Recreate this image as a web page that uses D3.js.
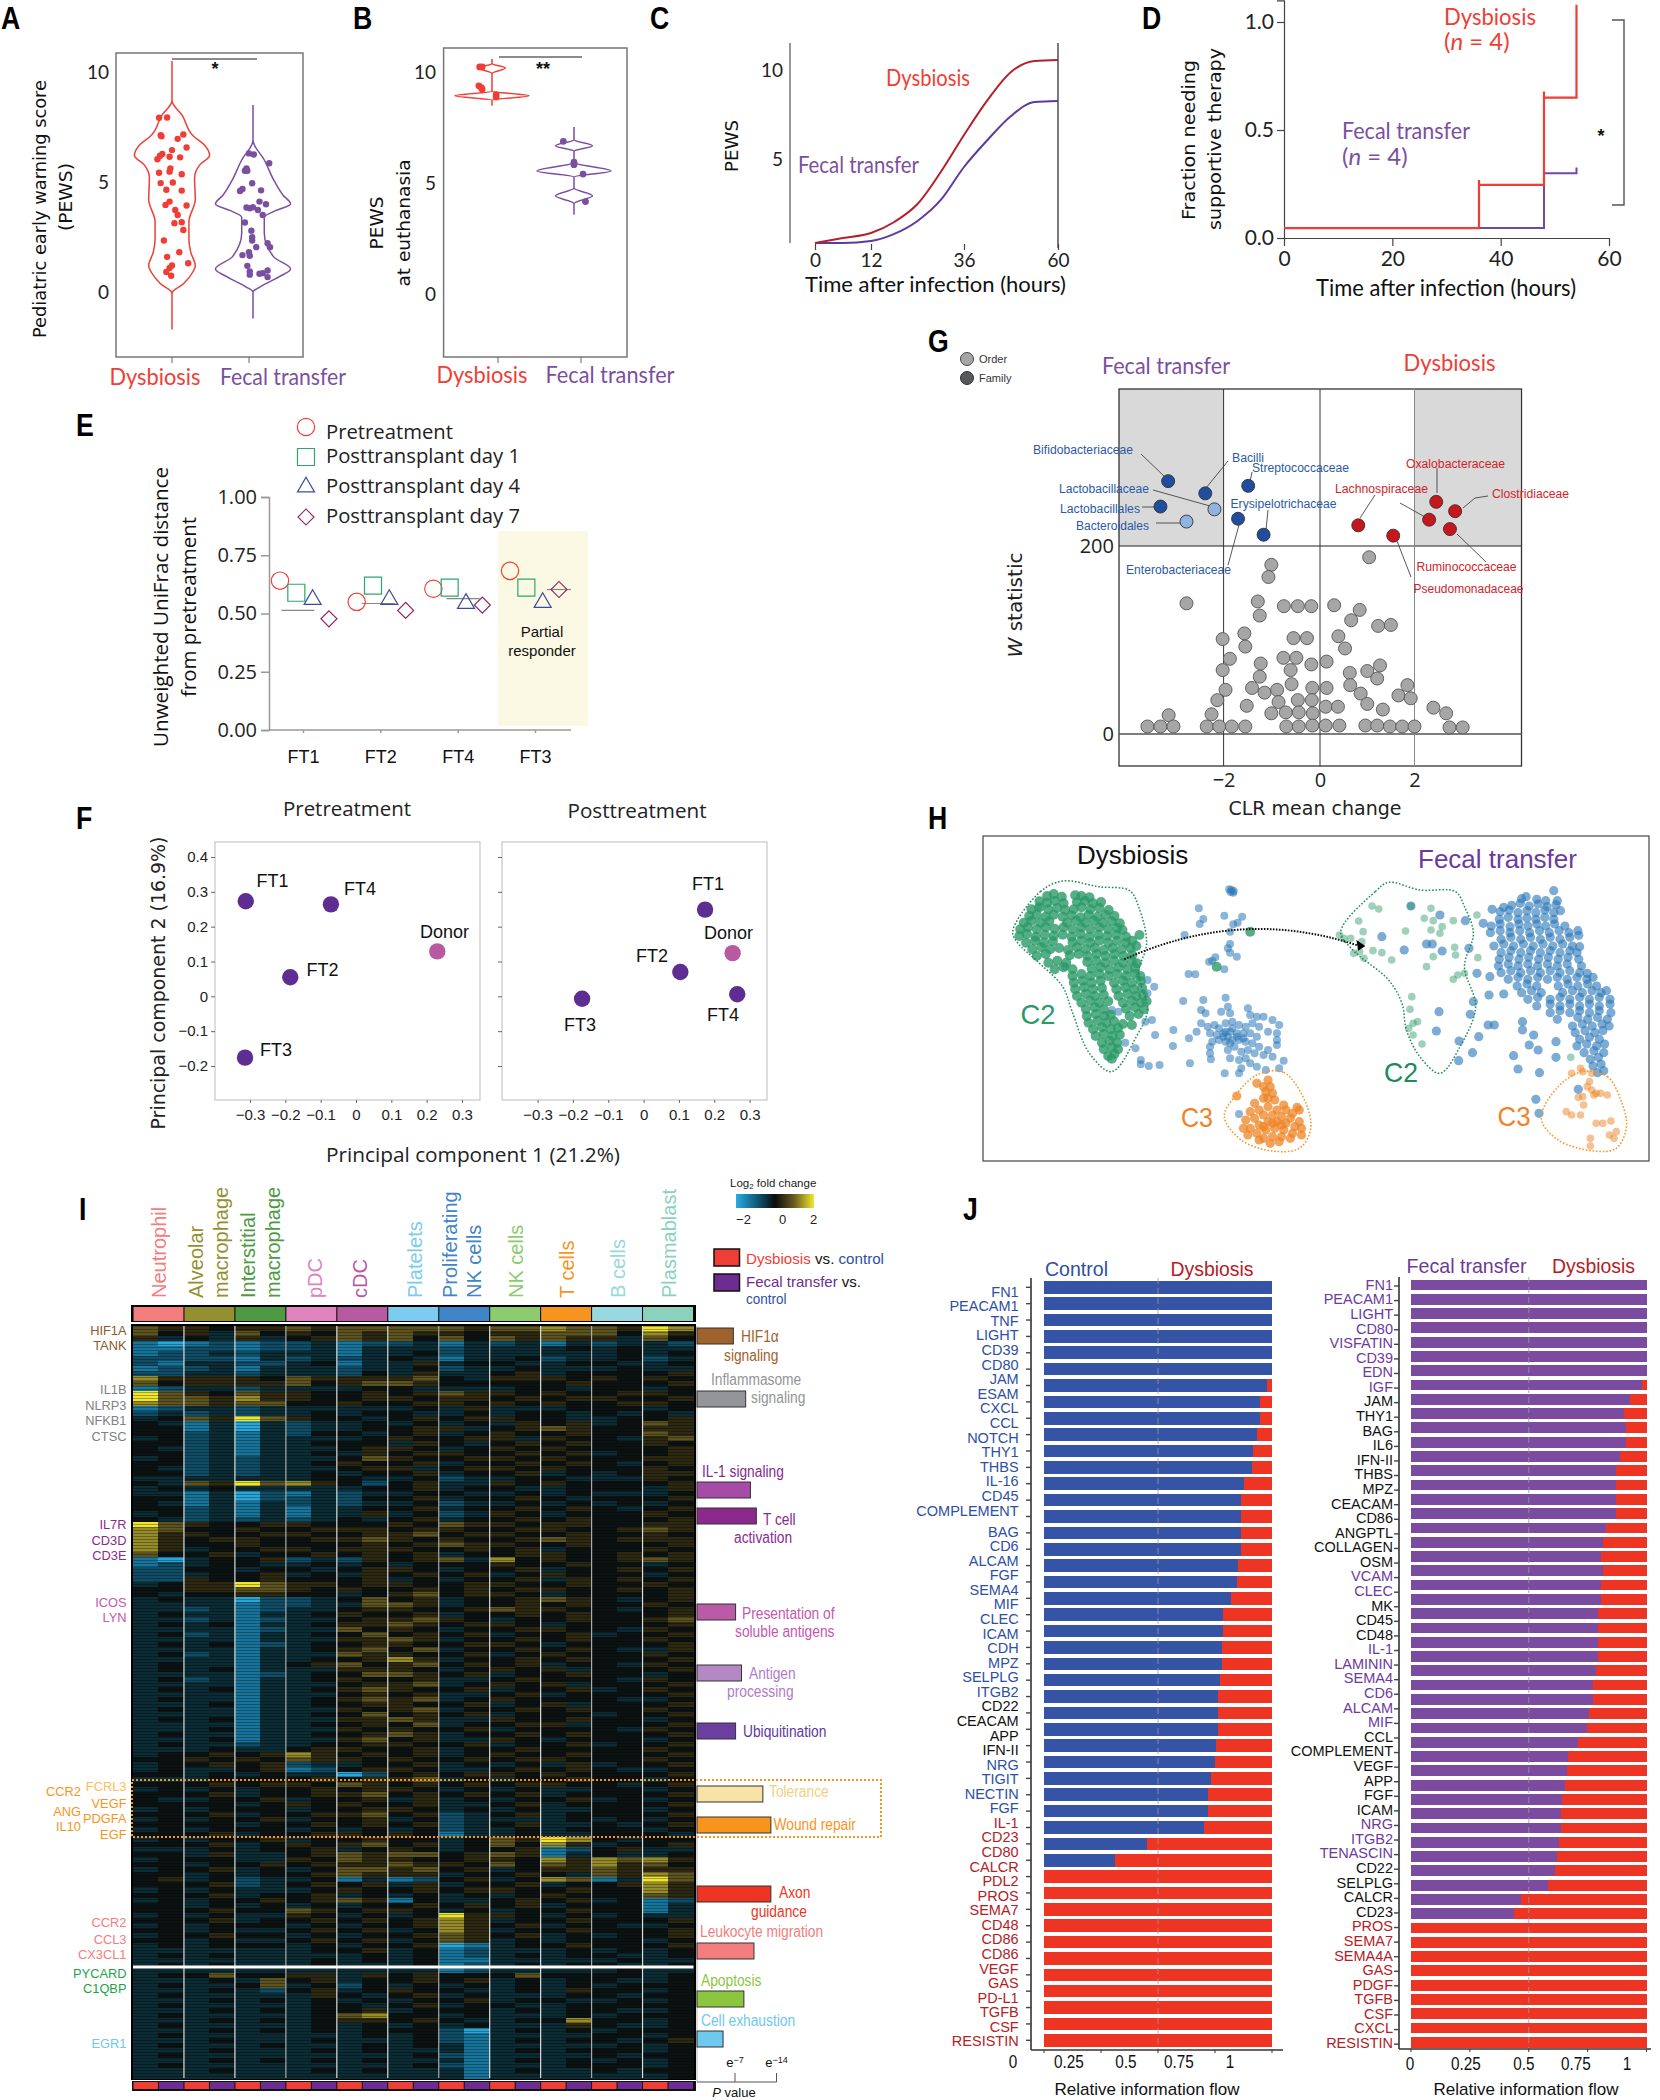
<!DOCTYPE html>
<html><head><meta charset="utf-8"><script src="https://cdn.jsdelivr.net/npm/d3@7/dist/d3.min.js"></script>
<style>html,body{margin:0;background:#fff}svg{display:block}text{font-family:"Open Sans",sans-serif}</style></head><body>
<div id="c"></div>
<script>
// ---------- Panel A ----------
const groups=["Dysbiosis","Fecal transfer"];
const violinA_red=[[-1.7,0],[-0.05,0],[0.4,.32],[0.9,.55],[1.2,.62],[1.8,.5],[2.4,.45],[3.2,.45],[4.2,.62],[5.2,.6],[5.8,.75],[6.2,1],[6.7,.85],[7.1,.56],[8,.28],[8.7,0],[10.5,0]];
const violinA_pur=[[-1.2,0],[0,0],[.25,.2],[.7,.7],[1.05,1],[1.6,.55],[2.7,.3],[3.4,.3],[3.7,.6],[4.0,1],[4.4,.8],[5,.58],[6,.3],[6.9,0],[8.5,0]];
const ptsA_red=[[.84,7.92],[.94,7.93],[.86,7.13],[.87,7.08],[1.14,7.16],[1.07,6.96],[1.18,6.57],[1,6.45],[.88,6.27],[.85,6.18],[.82,6.03],[.97,6.15],[1.1,6.12],[.98,5.62],[.97,5.47],[.84,5.42],[1.12,5.35],[.86,4.95],[1.01,4.98],[.93,4.65],[1.12,4.61],[.97,4.11],[.92,3.96],[1.18,3.93],[1.04,3.73],[1.07,3.5],[1.12,3.17],[1.03,3.13],[1.14,2.82],[.9,2.34],[1.09,1.81],[.94,1.6],[1.2,1.31],[1,1.21],[.97,1.09],[.93,.91],[.99,.74]];
const ptsA_pur=[[1.95,6.3],[2.01,6.25],[2.2,5.85],[1.92,5.62],[1.9,5.51],[1.93,5.51],[1.99,4.94],[1.87,4.68],[1.84,4.59],[2.1,4.62],[2.08,4.11],[2.16,3.99],[1.92,3.84],[1.96,3.81],[2,3.85],[2.06,3.73],[2.12,3.5],[1.9,3.16],[1.98,2.79],[1.99,2.49],[1.99,2.34],[2.18,2.22],[2.21,2.04],[2.04,2.04],[1.95,1.81],[1.87,1.68],[1.96,1.65],[1.93,1.19],[1.96,.94],[1.96,.79],[2.08,.83],[2.18,.98],[2.12,.86],[2.18,.68]];
// ---------- Panel B ----------
const violinB_red=[[8.5,0],[8.75,0],[8.95,1],[9.15,0],[9.95,0],[10.2,.36],[10.4,0],[10.6,0]];
const violinB_pur=[[3.6,0],[4.1,0],[4.45,.5],[4.8,0],[5.3,0],[5.57,1],[5.95,0],[6.45,0],[6.7,.5],[6.97,0],[7.55,0]];
const ptsB_red=[[.85,10.25],[.88,10.25],[.84,9.4],[.87,9.32],[.88,9.25],[1.05,9],[1.05,8.9]];
const ptsB_pur=[[1.87,6.9],[2,5.96],[2,5.85],[2.11,5.43],[2.14,4.19]];
// ---------- Panel C ----------
const hoursC=[0,6,12,18,24,30,36,42,48,54,60];
const pewsDys=[.28,.56,.84,1.46,2.47,4.27,6.35,8.31,9.89,10.5,10.56];
const pewsFT=[.28,.28,.39,.79,1.52,2.7,4.55,6.07,7.42,8.2,8.26];
// ---------- Panel D ----------
const stepDys=[[0,.046],[36,.046],[36,.246],[36,.268],[36,.246],[48,.246],[48,.65],[48,.678],[48,.65],[54,.65],[54,1.08]];
const stepFT=[[0,.046],[48,.046],[48,.3],[54,.3],[54,.326]];
// ---------- Panel E ----------
const patientsE=["FT1","FT2","FT4","FT3"];
const seriesE=["Pretreatment","Posttransplant day 1","Posttransplant day 4","Posttransplant day 7"];
const valsE=[[.641,.589,.56,.477],[.55,.62,.56,.513],[.606,.611,.543,.536],[.683,.611,.547,.603]];
const meansE=[.513,.543,.564,.603];
// ---------- Panel F ----------
const pcaPre=[["FT1",-.312,.273],["FT4",-.071,.264],["Donor",.23,.129],["FT2",-.186,.055],["FT3",-.314,-.176]];
const pcaPost=[["FT1",.174,.249],["Donor",.252,.124],["FT2",.104,.07],["FT4",.265,.006],["FT3",-.174,-.007]];
// ---------- Panel G ----------
const aldexGrey=[[1.04,188],[-1.01,180],[-1.07,167],[-2.77,139],[-1.29,141],[-1.25,126],[-.75,136],[-.46,136],[-.18,136],[.3,137],[.84,132],[.66,121],[1.23,115],[1.5,116],[-1.57,107],[-2.02,101],[-1.55,93],[-.55,102],[-.27,102],[.39,104],[.53,91],[-1.87,80],[-.76,81],[-.49,81],[-1.23,75],[-2.02,68],[-.61,68],[-.18,74],[.14,77],[.63,65],[1,67],[1.27,73],[1.21,59],[-1.25,61],[-.59,53],[-1.96,47],[-1.41,49],[-1.15,44],[-.89,47],[-.16,49],[.14,49],[.64,52],[.86,43],[1.85,52],[1.66,41],[1.92,38],[-2.13,36],[-.86,34],[-.46,36],[-.17,36],[-1.52,30],[.12,29],[.38,29],[1,32],[1.33,26],[2.4,28],[2.67,22],[-3.14,20],[-2.25,21],[-1.01,22],[-.71,23],[-.44,23],[-.15,22],[-3.58,8],[-3.31,8],[-3.04,8],[-2.35,8],[-2.09,8],[-1.83,8],[-1.55,8],[-.7,8],[-.44,8],[-.16,9],[.12,9],[.41,9],[.96,9],[1.21,9],[1.48,8],[1.74,8],[2,8],[2.74,7],[3.02,7]];
const aldexBlue=[["Bifidobacteriaceae",-3.15,269,1],["Bacilli",-2.38,256,1],["Streptococcaceae",-1.49,264,1],["Lactobacillaceae",-2.19,239,0],["Lactobacillales",-3.31,242,1],["Bacteroidales",-2.77,226,0],["Enterobacteriaceae",-1.7,229,1],["Erysipelotrichaceae",-1.17,212,1]];
const aldexRed=[["Oxalobacteraceae",2.46,247],["Clostridiaceae",2.86,237],["",2.31,228],["Lachnospiraceae",.81,222],["Ruminococcaceae",2.75,218],["Pseudomonadaceae",1.55,211]];
// ---------- Panel H (UMAP, arbitrary units, flat x,y lists) ----------
const umapGreenDys=[195,228,210,222,228,230,258,226,272,228,290,232,178,244,195,248,212,243,232,250,262,246,280,243,298,250,316,246,160,268,178,262,198,268,218,264,236,270,255,268,272,262,292,268,312,264,333,270,155,288,172,284,192,290,210,284,230,290,250,286,270,292,288,284,308,290,326,284,346,288,143,308,160,302,180,308,200,304,240,308,260,302,280,308,300,302,320,308,340,304,358,310,135,328,152,322,172,328,192,322,212,326,232,322,252,328,272,322,292,328,312,322,332,328,352,324,364,330,133,348,150,342,170,350,190,344,210,348,230,344,250,350,270,342,290,350,310,344,330,348,350,344,372,350,148,368,168,362,188,368,208,364,252,366,272,362,292,368,312,362,332,368,352,362,372,368,386,362,162,388,182,382,202,388,222,384,242,390,262,382,282,388,302,384,322,390,342,384,362,388,382,384,172,408,192,402,246,406,266,402,286,408,306,402,326,408,346,402,366,408,386,404,198,428,218,422,238,428,285,426,305,422,325,428,345,422,365,428,385,424,396,430,212,448,232,442,252,448,295,446,315,442,335,448,355,442,375,448,392,444,252,468,272,462,292,468,312,462,332,468,352,462,372,468,392,462,404,468,255,488,275,482,295,488,315,482,345,488,365,482,385,488,405,484,258,508,278,502,298,508,318,504,350,508,370,502,390,508,408,504,262,528,282,522,302,528,322,524,355,528,375,522,395,528,410,524,272,548,292,542,312,548,332,544,365,548,385,542,405,548,418,544,282,568,302,562,322,568,372,566,392,562,412,568,284,588,304,582,324,588,338,584,380,588,400,582,288,608,308,602,328,608,345,604,298,628,318,622,338,628,354,624,304,648,322,642,342,648,358,644,318,668,335,662,352,668,322,688,340,682,354,688,332,708,346,702,340,716,402,345,395,378,650,335,575,440,365,612,385,615];
const umapBlueDys=[603,208,608,210,613,213,606,216,612,218,535,265,545,297,537,312,592,287,632,290,622,308,612,313,605,335,503,345,605,372,600,385,605,398,592,448,620,410,572,412,565,422,558,425,512,462,527,463,420,480,435,500,420,520,500,543,545,540,595,533,430,600,415,605,478,630,437,645,513,655,477,678,393,685,370,668,405,720,405,733,423,738,447,735,515,730,593,760,175,262,235,440,340,570,355,575,625,882,540,570,550,580,600,560,585,575,605,580,645,565,650,585,665,590,680,590,700,600,715,615,530,635,540,610,555,620,570,615,580,625,595,610,610,605,625,615,640,620,655,610,670,620,690,635,710,640,560,640,575,645,590,640,605,635,620,640,635,640,650,640,665,650,565,665,580,660,595,665,610,660,625,660,640,665,655,670,670,680,690,690,710,660,710,675,560,680,560,700,562,718,600,690,615,680,630,695,645,690,660,700,680,705,700,710,605,715,625,720,640,715,650,730,630,745,625,760,665,740,685,750,715,745,725,722,595,635,610,625,600,650,620,650,635,655,590,650,605,670];
const umapOrangeDys=[690,780,665,790,680,800,695,800,685,815,700,820,690,835,620,828,660,850,680,835,705,840,725,855,650,875,670,870,690,860,710,870,730,870,745,880,640,900,660,895,680,885,700,885,720,890,740,895,760,905,635,925,650,925,670,915,690,905,710,905,730,910,750,920,765,925,645,945,665,940,685,930,705,925,725,930,745,940,765,945,680,955,700,950,720,950,740,955,695,970,715,965,670,960,700,910,680,920,720,915,755,862,760,870];
const umapGreenFT=[923,258,938,267,1055,265,1010,258,1040,295,1060,302,1105,302,1158,285,893,303,903,335,998,333,1075,340,1080,320,1055,330,850,345,860,355,875,355,900,365,882,400,895,395,925,392,945,398,905,415,967,420,1060,410,1108,382,1110,405,1045,440,1105,478,1115,465,1130,460,1012,530,1008,568,1025,605,1015,610,1005,625,1015,645,1035,672,1160,413,1368,712];
const umapBlueFT=[1330,212,1258,236,1268,230,1292,238,1312,242,1338,242,1218,262,1236,256,1255,250,1275,258,1295,252,1315,260,1335,254,1192,268,1210,275,1230,270,1250,278,1270,272,1290,278,1310,270,1330,278,1345,272,1208,298,1228,292,1250,298,1270,294,1290,298,1310,292,1330,298,1172,310,1190,318,1210,312,1232,320,1252,312,1272,318,1292,312,1312,318,1332,312,1355,318,1188,338,1210,332,1232,338,1254,332,1276,338,1298,332,1320,338,1342,332,1364,338,1384,332,1212,358,1234,352,1256,358,1278,352,1300,358,1322,352,1344,358,1366,352,1386,346,1196,378,1218,372,1240,378,1262,372,1284,378,1306,372,1328,378,1350,372,1372,378,1388,380,1212,398,1234,392,1256,398,1278,392,1300,398,1322,392,1344,398,1366,392,1382,398,1208,418,1230,412,1252,418,1274,412,1296,418,1318,412,1340,418,1362,412,1386,418,1206,438,1228,432,1250,438,1272,432,1294,438,1316,432,1338,438,1360,432,1392,438,1212,458,1234,452,1256,458,1278,452,1300,458,1322,452,1344,458,1366,452,1388,458,1405,460,1228,478,1250,472,1272,478,1294,472,1316,478,1338,472,1360,478,1382,472,1404,478,1418,472,1248,498,1270,492,1292,498,1340,498,1362,492,1384,498,1406,492,1426,498,1258,518,1280,512,1302,518,1350,518,1372,512,1394,518,1416,512,1436,518,1448,512,1272,538,1294,532,1322,538,1344,532,1366,538,1388,532,1410,538,1432,532,1456,538,1292,558,1322,552,1344,558,1366,552,1388,558,1410,552,1432,558,1456,552,1322,578,1344,572,1366,578,1388,572,1410,578,1432,572,1458,578,1338,598,1384,592,1406,598,1428,592,1450,598,1372,618,1394,612,1416,618,1438,612,1454,618,1378,638,1400,632,1422,638,1440,632,1388,658,1410,652,1432,658,1382,678,1404,672,1426,678,1444,672,1398,698,1420,692,1442,698,1412,718,1430,712,1418,738,1436,732,1428,758,1442,752,1075,285,1010,258,945,350,995,390,1045,372,1058,372,1080,393,1140,385,1132,302,1158,460,1187,470,1185,525,1218,522,1150,545,1073,575,1143,583,1183,615,1197,615,1067,633,1118,663,1162,650,1148,698,1117,722,1260,605,1260,630,1285,645,1295,690,1275,675,1335,665,1335,712,1240,707,1250,747,1298,758,1290,838,1297,880,1385,808];
const umapOrangeFT=[1395,755,1415,760,1410,785,1405,800,1415,810,1425,820,1385,832,1395,830,1397,855,1420,825,1450,825,1358,875,1370,885,1390,885,1425,910,1440,910,1458,903,1470,935,1455,945,1465,955,1412,955,1412,978,1370,760,1390,745,1435,820];
const hullC2Dys=[[118,335],[180,215],[230,183],[310,200],[380,212],[400,260],[418,370],[400,460],[420,570],[395,650],[340,755],[290,700],[250,570],[230,500],[170,420],[130,370]];
const hullC3Dys=[[665,765],[725,757],[775,850],[785,930],[760,985],[700,993],[630,960],[592,890],[615,830]];
const hullC2FT=[[853,335],[930,215],[960,187],[1030,210],[1110,215],[1130,260],[1150,340],[1130,440],[1155,560],[1120,680],[1075,760],[1030,710],[1000,630],[990,550],[960,480],[880,390]];
const hullC3FT=[[1395,755],[1450,770],[1480,840],[1493,920],[1470,985],[1420,993],[1340,960],[1302,895],[1340,800]];
// ---------- Panel I ----------
const cellTypes=["Neutrophil","Alveolar macrophage","Interstitial macrophage","pDC","cDC","Platelets","Proliferating NK cells","NK cells","T cells","B cells","Plasmablast"];
const cellColors=["#F47D7D","#948F2F","#4E9A43","#E083BF","#B75AA2","#7BCCF0","#3F85C8","#8CCB6E","#F7941D","#98D8E0","#8AD2BD"];
// one row = 22 columns, level 0 (log2FC -2) .. 4 (0) .. 8 (+2)
const heatRows=`65 54 55 65 66 66 65 66 76 65 87
64 53 64 54 65 65 54 55 66 64 75
53 43 53 45 65 64 64 65 65 53 64
10 12 12 23 12 23 13 23 13 23 32
11 22 12 23 13 33 23 33 34 34 33
12 23 23 33 13 34 23 33 33 34 34
22 22 13 23 23 43 13 34 23 34 23
21 33 22 34 13 35 34 43 34 43 34
12 23 13 33 23 34 23 34 33 34 33
22 33 23 33 24 35 33 45 34 44 45
75 55 54 65 55 56 43 55 54 54 54
64 55 55 64 56 65 44 44 45 44 45
12 33 23 33 34 43 33 34 43 44 34
86 54 65 54 45 45 65 54 54 45 54
86 65 75 54 45 54 55 45 45 54 45
76 65 66 44 54 45 54 54 54 45 54
12 33 23 33 33 34 35 33 34 44 34
23 23 23 34 34 43 34 34 43 43 43
34 65 86 54 43 45 45 54 43 34 45
43 13 03 23 34 34 34 35 45 34 65
44 13 03 23 34 45 53 45 65 44 55
44 23 13 24 43 45 34 54 45 44 65
34 23 13 33 34 54 45 53 54 43 56
44 23 13 34 44 35 43 45 45 44 54
43 23 13 33 45 54 34 54 54 44 45
44 23 13 34 35 45 54 45 45 34 45
34 23 23 33 46 54 45 54 54 44 55
44 23 23 34 54 45 34 45 45 43 45
43 23 23 33 45 53 45 54 54 44 54
44 23 23 34 34 45 34 45 34 34 55
33 33 33 34 43 34 23 34 43 33 54
43 65 86 75 42 45 33 54 54 44 45
34 34 33 33 34 45 34 43 34 44 35
33 13 02 13 23 34 43 34 34 33 34
44 13 02 23 24 45 34 45 43 44 45
43 13 13 23 23 34 23 34 34 34 34
44 23 13 13 34 45 34 45 45 43 45
34 23 13 13 35 34 23 54 34 44 54
43 23 23 23 43 45 34 45 45 44 45
86 54 45 54 44 54 65 54 55 44 55
76 44 54 45 55 45 54 45 54 45 65
75 54 45 54 45 56 45 54 45 44 54
75 45 54 45 56 54 54 45 65 45 55
75 44 54 44 45 45 65 54 45 44 45
75 34 45 54 55 54 45 45 34 44 54
64 45 34 45 45 45 34 45 54 45 45
10 34 45 23 25 45 63 74 54 45 65
12 34 43 34 34 34 44 54 45 44 34
22 44 34 43 45 54 34 45 34 45 45
22 34 45 34 35 45 45 34 54 44 34
22 54 45 44 45 34 34 45 35 45 45
34 55 86 55 45 54 45 54 45 44 54
44 55 66 54 54 45 45 45 54 45 45
43 44 55 44 34 56 45 54 34 44 45
34 33 02 23 46 45 34 45 65 43 45
33 33 12 23 36 65 34 45 45 44 54
33 23 12 33 45 54 45 65 54 43 45
34 33 13 34 54 45 34 45 45 44 45
33 23 12 33 45 56 54 34 45 44 56
34 34 13 34 55 65 45 54 34 44 45
33 33 12 33 64 54 34 45 54 43 54
34 23 13 34 46 45 45 34 45 34 45
33 33 13 33 55 65 34 45 45 44 54
34 34 12 34 45 54 45 54 34 44 45
33 33 13 34 56 46 34 45 45 43 35
34 23 13 33 65 54 45 34 54 44 54
33 33 13 34 45 75 34 45 45 44 45
34 33 13 45 64 56 45 45 34 43 54
34 34 13 33 55 54 34 54 53 44 45
33 33 12 34 46 65 45 34 45 44 34
34 23 13 34 54 45 33 45 44 43 54
33 33 13 33 45 56 34 54 53 44 45
34 34 13 34 56 54 45 34 45 34 54
33 33 13 33 45 45 33 45 34 44 45
34 33 13 34 56 56 34 54 44 43 34
33 34 13 34 45 54 45 34 53 44 45
34 33 13 33 54 56 34 45 45 44 54
33 33 13 34 46 45 45 34 44 34 45
34 34 13 33 55 65 33 54 45 44 34
33 33 13 34 45 46 34 45 53 44 45
33 34 13 33 54 54 45 34 44 43 54
34 33 13 34 45 65 34 45 45 44 45
33 34 13 33 56 45 33 54 34 44 34
34 33 23 34 45 54 45 34 45 34 45
33 34 33 45 54 45 34 45 44 44 54
34 45 45 75 45 45 34 54 45 44 45
44 54 54 65 54 54 45 45 54 44 54
34 45 45 23 34 45 34 34 35 34 45
34 33 45 12 45 54 33 45 45 43 34
44 34 34 33 02 45 45 54 54 44 45
33 34 44 45 45 56 34 34 45 44 34
44 45 45 54 65 45 45 45 54 43 45
34 34 34 45 45 54 34 34 33 44 34
44 45 34 45 56 45 45 45 34 44 45
43 34 45 34 45 35 34 34 45 34 34
44 44 34 54 54 45 33 45 34 44 45
34 34 44 34 45 54 34 34 33 44 34
44 45 34 45 56 45 23 45 34 44 45
34 34 45 34 45 34 23 33 34 34 34
44 44 34 45 45 45 23 45 33 43 45
34 34 44 34 34 34 23 34 34 44 34
44 45 34 45 54 54 13 34 33 44 43
34 34 45 34 45 44 34 65 87 43 44
44 45 34 54 56 45 34 64 75 34 45
33 34 34 45 34 54 34 45 12 45 33
44 35 33 45 65 66 45 65 13 43 34
34 44 33 54 65 54 45 54 75 76 75
44 34 45 45 55 65 54 64 65 75 64
34 45 34 34 66 56 45 34 55 65 55
44 34 34 45 65 55 34 45 43 65 76
45 34 23 34 13 12 45 34 76 13 86
44 45 23 45 45 35 34 45 34 45 75
34 34 33 34 54 45 45 54 45 44 75
44 45 34 45 34 34 34 34 54 44 65
34 34 45 45 65 14 33 45 45 34 12
44 34 34 34 34 45 45 45 34 44 13
44 45 44 65 45 54 34 34 45 44 13
34 34 33 54 34 34 85 54 34 34 33
44 45 34 45 45 45 75 34 45 44 45
34 34 44 34 34 45 75 45 34 43 34
44 34 33 45 45 34 75 34 45 44 45
34 45 44 34 34 45 65 45 34 34 45
44 34 33 45 45 34 65 34 34 44 34
34 34 44 34 34 45 01 34 45 44 45
33 33 33 34 45 34 12 33 34 34 34
34 34 33 33 34 34 12 34 34 43 34
33 33 33 34 34 34 11 33 33 34 33
34 34 33 34 33 34 12 34 34 43 34
33 33 33 33 33 33 12 33 33 34 33
34 46 44 55 35 45 44 46 44 44 34
33 34 36 45 34 45 45 34 34 43 34
34 33 46 34 24 34 34 34 34 34 44
33 34 32 45 34 54 43 34 35 44 34
34 33 33 35 43 45 34 33 34 43 44
33 34 34 34 34 34 45 34 43 34 34
34 33 33 34 43 45 34 43 34 44 44
33 34 34 34 45 34 44 34 34 43 34
34 33 33 34 67 44 34 33 34 34 44
33 34 34 34 55 45 43 34 47 44 34
34 33 33 34 34 34 34 33 35 43 34
33 34 34 34 34 44 20 34 34 34 44
34 33 33 33 34 34 21 33 33 44 34
33 34 33 34 33 34 21 34 34 43 45
34 33 34 33 34 34 31 33 33 34 34
33 34 33 34 34 33 31 34 34 44 34
34 33 33 33 33 34 21 33 33 43 44
33 34 34 34 34 33 31 34 34 34 34
34 33 33 33 33 34 21 33 34 44 34
33 34 33 34 34 33 31 34 33 43 44
33 33 33 33 33 33 31 33 33 33 34`.split("\n").map(r=>r.replace(/ /g,"").split("").map(c=>(+c-4)/2));
const pathways=[["HIF1α",6.7,"#A0622D"],["Inflammasome",8.8,"#939598"],["IL-1",9.6,"#A64CA6"],["T cell",10.6,"#8B2A8C"],["Presentation",7.1,"#B95BA6"],["Antigen",8.1,"#B488C4"],["Ubiquitination",7.1,"#6B3FA0"],["Tolerance",11.7,"#F9E2A5"],["Wound repair",13.05,"#F7941D"],["Axon",13.05,"#EE3524"],["Leukocyte",10.2,"#F47D7D"],["Apoptosis",8.5,"#8CC63F"],["Exhaustion",4.8,"#6FC8EE"]];
const pathwayTops=[1328,1391,1482,1508,1604,1665,1723,1786,1817,1886,1943,1991,2031];
// ---------- Panel J ----------
const genesCtrl=["FN1","PEACAM1","TNF","LIGHT","CD39","CD80","JAM","ESAM","CXCL","CCL","NOTCH","THY1","THBS","IL-16","CD45","COMPLEMENT","BAG","CD6","ALCAM","FGF","SEMA4","MIF","CLEC","ICAM","CDH","MPZ","SELPLG","ITGB2","CD22","CEACAM","APP","IFN-II","NRG","TIGIT","NECTIN","FGF","IL-1","CD23","CD80","CALCR","PDL2","PROS","SEMA7","CD48","CD86","CD86","VEGF","GAS","PD-L1","TGFB","CSF","RESISTIN"];
const fracCtrl=[1,1,1,1,1,1,.979,.947,.947,.936,.917,.911,.877,.866,.866,.866,.866,.851,.845,.819,.783,.783,.781,.781,.772,.764,.762,.762,.753,.749,.732,.721,.721,.7,.453,.311,0,0,0,0,0,0,0,0,0,0,0];
const genesFT=["FN1","PEACAM1","LIGHT","CD80","VISFATIN","CD39","EDN","IGF","JAM","THY1","BAG","IL6","IFN-II","THBS","MPZ","CEACAM","CD86","ANGPTL","COLLAGEN","OSM","VCAM","CLEC","MK","CD45","CD48","IL-1","LAMININ","SEMA4","CD6","ALCAM","MIF","CCL","COMPLEMENT","VEGF","APP","FGF","ICAM","NRG","ITGB2","TENASCIN","CD22","SELPLG","CALCR","CD23","PROS","SEMA7","SEMA4A","GAS","PDGF","TGFB","CSF","CXCL","RESISTIN"];
const fracFT=[1,1,1,1,1,1,1,.979,.932,.903,.911,.911,.889,.872,.872,.872,.872,.829,.816,.808,.816,.808,.808,.796,.796,.796,.792,.786,.771,.771,.755,.746,.711,.668,.664,.654,.643,.635,.635,.627,.619,.612,.581,.468,.439,0,0,0,0,0,0,0,0,0];
const ftBlack=["JAM","THY1","BAG","IL6","IFN-II","THBS","MPZ","CEACAM","CD86","ANGPTL","COLLAGEN","OSM","MK","CD45","CD48","CCL","COMPLEMENT","VEGF","APP","FGF","ICAM","CD22","SELPLG","CALCR","CD23"];

// ====== drawing helpers ======
const RED="#EF3E36",PUR="#7B4FA0",ARIAL='"Liberation Sans",sans-serif',WIDE='"DejaVu Sans",sans-serif',LATO='Lato,sans-serif';
const svg=d3.select("#c").append("svg").attr("width",1660).attr("height",2100);
svg.append("rect").attr("width",1660).attr("height",2100).attr("fill","#fff");
function T(x,y,s,o={}){const t=svg.append("text").attr("x",x).attr("y",y).attr("font-size",o.size||16).attr("fill",o.fill||"#111").attr("text-anchor",o.anchor||"start").text(s);
 t.style("font-family",o.font||ARIAL);if(o.rot)t.attr("transform",`rotate(-90 ${x} ${y})`);if(o.weight)t.attr("font-weight",o.weight);if(o.style)t.attr("font-style",o.style);if(o.db)t.attr("dominant-baseline",o.db);
 if(o.w)t.attr("textLength",o.w).attr("lengthAdjust","spacingAndGlyphs");
 if(o.sx)t.attr("textLength",t.node().getComputedTextLength()*o.sx).attr("lengthAdjust","spacingAndGlyphs");return t;}
function axisStyle(g,o={}){g.selectAll("text").attr("font-size",o.size||18).attr("fill",o.fill||"#222").style("font-family",o.font||LATO);g.selectAll("line").attr("stroke",o.stroke||"#444").attr("stroke-width",o.sw||1.2);g.selectAll(".domain").attr("stroke",o.stroke||"#444").attr("stroke-width",o.sw||1.2);return g;}
function line(x1,y1,x2,y2,c="#444",w=1,dash){const l=svg.append("line").attr("x1",x1).attr("y1",y1).attr("x2",x2).attr("y2",y2).attr("stroke",c).attr("stroke-width",w);if(dash)l.attr("stroke-dasharray",dash);return l;}
function box(x,y,w,h,c="#777",sw=1.5,f="none"){return svg.append("rect").attr("x",x).attr("y",y).attr("width",w).attr("height",h).attr("fill",f).attr("stroke",c).attr("stroke-width",sw);}
["A",1,29,"B",353,29,"C",650,29,"D",1142,29,"E",76,436,"F",76,829,"G",928,352,"H",928,829,"I",79,1220,"J",963,1220].forEach((v,i,a)=>{if(i%3==0)T(a[i+1],a[i+2],v,{size:31,weight:"bold",font:ARIAL,fill:"#000",sx:.86});});
function violin(data,cx,hw,y,color){const a=d3.area().curve(d3.curveMonotoneY).y(d=>y(d[0])).x0(d=>cx-d[1]*hw).x1(d=>cx+d[1]*hw);svg.append("path").attr("d",a(data)).attr("fill","none").attr("stroke",color).attr("stroke-width",1.5);}

// ====== A ======
{const y=d3.scaleLinear([-2.95,10.86],[357,53]),x=d3.scaleLinear([1,2],[172,253]);
 box(116,53,187,304);
 axisStyle(svg.append("g").attr("transform","translate(112,0)").call(d3.axisLeft(y).tickValues([0,5,10]).tickSize(0).tickFormat(d3.format("d"))).call(g=>g.select(".domain").remove()),{size:19});
 violin(violinA_red,172,37.6,y,RED);violin(violinA_pur,253,37.6,y,"#7B4FA0");
 svg.append("g").selectAll("circle").data(ptsA_red).join("circle").attr("cx",d=>x(d[0])).attr("cy",d=>y(d[1])).attr("r",3.2).attr("fill",RED);
 svg.append("g").selectAll("circle").data(ptsA_pur).join("circle").attr("cx",d=>x(d[0])).attr("cy",d=>y(d[1])).attr("r",3.2).attr("fill","#7B4FA0");
 line(172,59,257,59,"#666",1.5);T(215,75,"*",{size:18,anchor:"middle",weight:"bold"});
 line(172,357,172,363,"#666",1);line(249,357,249,363,"#666",1);
 T(155,385,"Dysbiosis",{size:23,fill:RED,anchor:"middle",font:LATO,w:91});T(283,385,"Fecal transfer",{size:23,fill:PUR,anchor:"middle",font:LATO,w:126});
 T(46,209,"Pediatric early warning score",{size:18,font:WIDE,anchor:"middle",rot:1,w:258});T(72,197,"(PEWS)",{size:18,font:WIDE,anchor:"middle",rot:1,w:68});}
// ====== B ======
{const y=d3.scaleLinear([-2.8,11.1],[357,48]),x=d3.scaleLinear([1,2],[492,574]);
 box(443.6,48,183.4,309);
 axisStyle(svg.append("g").attr("transform","translate(439,0)").call(d3.axisLeft(y).tickValues([0,5,10]).tickSize(0).tickFormat(d3.format("d"))).call(g=>g.select(".domain").remove()),{size:19});
 violin(violinB_red,492,37,y,RED);violin(violinB_pur,574,37,y,"#7B4FA0");
 svg.append("g").selectAll("circle").data(ptsB_red).join("circle").attr("cx",d=>x(d[0])).attr("cy",d=>y(d[1])).attr("r",3.4).attr("fill",RED);
 svg.append("g").selectAll("circle").data(ptsB_pur).join("circle").attr("cx",d=>x(d[0])).attr("cy",d=>y(d[1])).attr("r",3.4).attr("fill","#7B4FA0");
 line(499,57,582,57,"#666",1.5);T(543,75,"**",{size:18,anchor:"middle",weight:"bold"});
 line(498,357,498,363,"#666",1);line(581,357,581,363,"#666",1);
 T(482,383,"Dysbiosis",{size:23,fill:RED,anchor:"middle",font:LATO,w:91});T(610,383,"Fecal transfer",{size:23,fill:PUR,anchor:"middle",font:LATO,w:129});
 T(383,223,"PEWS",{size:18,font:WIDE,anchor:"middle",rot:1,w:53});T(410,223,"at euthanasia",{size:18,font:WIDE,anchor:"middle",rot:1,w:127});}
// ====== C ======
{const x=d3.scaleLinear([0,12,36,60],[815,871,964,1058]),y=d3.scaleLinear([0,10],[248,70]);
 line(790,43,790,243,"#555",1.2);line(1058,43,1058,248,"#222",1.2);
 axisStyle(svg.append("g").attr("transform","translate(786,0)").call(d3.axisLeft(y).tickValues([5,10]).tickSize(0)).call(g=>g.select(".domain").remove()),{size:19});
 axisStyle(svg.append("g").attr("transform","translate(0,244)").call(d3.axisBottom(x).tickValues([0,12,36,60]).tickSize(6).tickPadding(4)).call(g=>g.select(".domain").remove()),{size:19});
 const ln=v=>d3.line().curve(d3.curveMonotoneX).x((d,i)=>x(hoursC[i])).y(d=>y(d))(v);
 svg.append("path").attr("d",ln(pewsFT)).attr("fill","none").attr("stroke","#5E3A9E").attr("stroke-width",2);
 svg.append("path").attr("d",ln(pewsDys)).attr("fill","none").attr("stroke","#B5202B").attr("stroke-width",2);
 T(886,86,"Dysbiosis",{size:23,fill:RED,font:LATO,w:84});T(798,173,"Fecal transfer",{size:23,fill:PUR,font:LATO,w:121});
 T(805,292,"Time after infection (hours)",{size:22,font:LATO,w:261});
 T(738,146,"PEWS",{size:18,font:WIDE,anchor:"middle",rot:1,w:52});}
// ====== D ======
{const x=d3.scaleLinear([0,60],[1284,1609]),y=d3.scaleLinear([0,1],[238,22]);
 axisStyle(svg.append("g").attr("transform","translate(1284,0)").call(d3.axisLeft(d3.scaleLinear([0,1.1],[238,0.4])).tickValues([0,.5,1]).tickSize(7).tickFormat(d3.format(".1f"))),{size:21});
 axisStyle(svg.append("g").attr("transform","translate(0,238)").call(d3.axisBottom(x).tickValues([0,20,40,60]).tickSize(8).tickSizeOuter(0).tickPadding(5)),{size:21});
 const ln=d3.line().x(d=>x(d[0])).y(d=>y(d[1]));
 svg.append("path").attr("d",ln(stepFT)).attr("fill","none").attr("stroke","#6D4AA8").attr("stroke-width",2);
 svg.append("path").attr("d",ln(stepDys)).attr("fill","none").attr("stroke",RED).attr("stroke-width",2.2);
 T(1444,25,"Dysbiosis",{size:24,fill:RED,font:LATO,w:92});
 const n=(x0,y0,c)=>{const t=T(x0,y0,"(",{size:24,fill:c,font:LATO});t.append("tspan").attr("font-style","italic").text("n");t.append("tspan").text(" = 4)");};
 n(1444,50,RED);T(1342,139,"Fecal transfer",{size:24,fill:PUR,font:LATO,w:128});n(1342,165,PUR);
 T(1190,140,"Fraction needing",{size:18,font:WIDE,anchor:"middle",rot:1,w:160,db:"middle"});T(1216,139,"supportive therapy",{size:18,font:WIDE,anchor:"middle",rot:1,w:182,db:"middle"});
 T(1316,296,"Time after infection (hours)",{size:23,font:LATO,w:260});
 svg.append("path").attr("d","M1612 20H1624V205H1612").attr("fill","none").attr("stroke","#555").attr("stroke-width",1.4);
 T(1601,142,"*",{size:18,anchor:"middle",weight:"bold"});}
// ====== E ======
{const y=d3.scaleLinear([0,1],[730,497]),slot=d3.scaleLinear([0,17.1],[280,559]);
 svg.append("rect").attr("x",498).attr("y",531).attr("width",90).attr("height",195).attr("fill","#FBF9E3");
 const pts=d3.scalePoint(patientsE,[303,535]);
 axisStyle(svg.append("g").attr("transform","translate(269,0)").call(d3.axisLeft(y).tickValues([0,.25,.5,.75,1]).tickSize(8).tickFormat(d3.format(".2f")).tickPadding(4)),{size:20,stroke:"#999",sw:1.5,font:'"Open Sans",sans-serif'});
 const xa=svg.append("g").attr("transform","translate(0,730)").call(d3.axisBottom(pts).tickSize(3).tickPadding(17).tickSizeOuter(0));
 axisStyle(xa,{size:18,stroke:"#999",sw:1.5,font:ARIAL,fill:"#111"});
 xa.select(".domain").attr("d","M269,0H571");
 const col=["#EF4136","#2FA56E","#3B4BA0","#8E2A63"];
 const sym=[d3.symbol(d3.symbolCircle,236)(),d3.symbol(d3.symbolSquare,289)(),d3.symbol(d3.symbolTriangle,125)(),d3.symbol(d3.symbolSquare,128)()];
 valsE.forEach((r,i)=>{const off=[1.1,1.32,1.82,3.0][i],w=[16.5,16.5,16.5,12][i],cx=slot(4.7*i+off);
  line(cx-w,y(meansE[i]),cx+w,y(meansE[i]),"#888",1.2);
  r.forEach((v,j)=>svg.append("path").attr("d",sym[j]).attr("transform",`translate(${slot(4.7*i+j)},${y(v)})${j==3?" rotate(45)":""}`).attr("fill","none").attr("stroke",col[j]).attr("stroke-width",1.2));});
 seriesE.forEach((s,j)=>{const yy=[427,457,487,517][j];svg.append("path").attr("d",sym[j]).attr("transform",`translate(306,${yy})${j==3?" rotate(45)":""}`).attr("fill","none").attr("stroke",col[j]).attr("stroke-width",1.2);
  T(326,yy+6+(j==0?6:0),s,{size:20,font:'"Open Sans",sans-serif',fill:"#222",w:j==0?127:194});});
 T(542,637,"Partial",{size:15,anchor:"middle"});T(542,656,"responder",{size:15,anchor:"middle"});
 T(168,607,"Unweighted UniFrac distance",{size:20,font:'"Open Sans",sans-serif',anchor:"middle",rot:1,w:280});T(196,607,"from pretreatment",{size:20,font:'"Open Sans",sans-serif',anchor:"middle",rot:1,w:180});}
// ====== F ======
{const y=d3.scaleLinear([-.2,.4],[1066,857]);
 const labs={pre:{FT1:[256.5,887],FT4:[344,895],Donor:[420,938],FT2:[306.5,976],FT3:[260,1056]},post:{FT1:[692,890],Donor:[704,939],FT2:[636,962],FT4:[707,1021],FT3:[564,1031]}};
 [[215,pcaPre,356,"pre"],[502,pcaPost,643.6,"post"]].forEach(([x0,data,z,k],pi)=>{
  const x=d3.scaleLinear([-.3,.3],[z-106,z+106]);
  box(x0,842,265,258,"#bbb",1);
  const fmt=d=>Math.abs(d)<1e-9?"0":d3.format(".1f")(d);
  const ya=svg.append("g").attr("transform",`translate(${x0},0)`).call(d3.axisLeft(y).tickValues([-.2,-.1,0,.1,.2,.3,.4]).tickSize(4).tickFormat(fmt).tickPadding(3));
  axisStyle(ya,{size:15,font:ARIAL,stroke:"#666",sw:1});ya.select(".domain").remove();if(pi)ya.selectAll("text").remove();
  const xa=svg.append("g").attr("transform","translate(0,1100)").call(d3.axisBottom(x).tickValues([-.3,-.2,-.1,0,.1,.2,.3]).tickSize(3).tickFormat(fmt).tickPadding(6));
  axisStyle(xa,{size:15,font:ARIAL,stroke:"#666",sw:1});xa.select(".domain").remove();
  svg.append("g").selectAll("circle").data(data).join("circle").attr("cx",d=>x(d[1])).attr("cy",d=>y(d[2])).attr("r",8.2).attr("fill",d=>d[0]=="Donor"?"#B75AA2":"#5E2D91");
  data.forEach(d=>T(labs[k][d[0]][0],labs[k][d[0]][1],d[0],{size:18,fill:"#111"}));});
 T(347,816,"Pretreatment",{size:20,anchor:"middle",font:'"Open Sans",sans-serif',fill:"#222",w:128});T(637,818,"Posttreatment",{size:20,anchor:"middle",font:'"Open Sans",sans-serif',fill:"#222",w:139});
 T(473,1162,"Principal component 1 (21.2%)",{size:20,anchor:"middle",font:'"Open Sans",sans-serif',fill:"#222",w:294});
 T(165,983,"Principal component 2 (16.9%)",{size:20,anchor:"middle",rot:1,font:WIDE,fill:"#222",w:293});}
// ====== G ======
{const x=d3.scaleLinear([-2,0,2],[1223.6,1320,1414.5]),y=d3.scaleLinear([0,200],[734,546]);
 svg.append("rect").attr("x",1119).attr("y",389).attr("width",104.6).attr("height",157).attr("fill","#D9D9D9");
 svg.append("rect").attr("x",1414.5).attr("y",389).attr("width",106).attr("height",157).attr("fill","#D9D9D9");
 box(1119,389,402.5,377,"#333",1.3);
 line(1119,546,1521.5,546,"#222",1.2);line(1119,734,1521.5,734,"#555",1.6);line(1223.6,389,1223.6,766,"#333",1);line(1320,389,1320,766,"#333",1);line(1414.5,389,1414.5,766,"#888",1);
 [[1141,454,1165,477],[1228,461,1206,488],[1252,472,1250,482],[1153,490,1210,506],[1142,507,1156,507],[1156,523,1181,523],[1268,510,1266,530],[1228,565,1239,525],[1437,468,1437,493],[1488,496,1475,498],[1475,498,1463,508],[1375,495,1360,518],[1400,503,1425,517],[1486,562,1457,534],[1411,577,1397,541]].forEach(l=>line(l[0],l[1],l[2],l[3],"#444",.9));
 svg.append("g").selectAll("circle").data(aldexGrey).join("circle").attr("cx",d=>x(d[0])).attr("cy",d=>y(d[1])).attr("r",6.5).attr("fill","#A6A6A6").attr("stroke","#555").attr("stroke-width",.9);
 svg.append("g").selectAll("circle").data(aldexBlue).join("circle").attr("cx",d=>x(d[1])).attr("cy",d=>y(d[2])).attr("r",6.5).attr("fill",d=>d[3]?"#1F4E9E":"#8FB4E0").attr("stroke","#333").attr("stroke-width",.9);
 svg.append("g").selectAll("circle").data(aldexRed).join("circle").attr("cx",d=>x(d[1])).attr("cy",d=>y(d[2])).attr("r",6.5).attr("fill","#C8161D").attr("stroke","#333").attr("stroke-width",.9);
 const bl="#2B5AA5",rd="#D2232A";
 [["Bifidobacteriaceae",1033,454,100],["Bacilli",1232,462,32],["Streptococcaceae",1252,472,97],["Lactobacillaceae",1059,493,90],["Lactobacillales",1060,513,80],["Bacteroidales",1076,530,73],["Erysipelotrichaceae",1230.5,508,106],["Enterobacteriaceae",1126,574,105]].forEach(d=>T(d[1],d[2],d[0],{size:12,fill:bl,w:d[3]}));
 [["Oxalobacteraceae",1406,468,99],["Lachnospiraceae",1335,493,93],["Clostridiaceae",1492,498,77],["Ruminococcaceae",1416.5,571,100],["Pseudomonadaceae",1413.5,593,110]].forEach(d=>T(d[1],d[2],d[0],{size:12,fill:rd,w:d[3]}));
 svg.append("circle").attr("cx",967).attr("cy",359).attr("r",6.5).attr("fill","#A6A6A6").attr("stroke","#444");svg.append("circle").attr("cx",967).attr("cy",378).attr("r",6.5).attr("fill","#58595B").attr("stroke","#333");
 T(979,363,"Order",{size:11,fill:"#333"});T(979,382,"Family",{size:11,fill:"#333"});
 T(1102,374,"Fecal transfer",{size:24,fill:PUR,font:LATO,w:128});T(1403.5,371,"Dysbiosis",{size:24,fill:RED,font:LATO,w:92});
 const ya=svg.append("g").attr("transform","translate(1117,0)").call(d3.axisLeft(y).tickValues([0,200]).tickSize(0).tickFormat(d3.format("d")));axisStyle(ya,{size:20,font:'"Open Sans",sans-serif'});ya.select(".domain").remove();
 const xa=svg.append("g").attr("transform","translate(0,766)").call(d3.axisBottom(x).tickValues([-2,0,2]).tickSize(0).tickPadding(7).tickFormat(d3.format("d")));axisStyle(xa,{size:20,font:'"Open Sans",sans-serif'});xa.select(".domain").remove();
 T(1315,815,"CLR mean change",{size:20,font:WIDE,anchor:"middle",w:173,fill:"#222"});
 const w=T(1022,605,"",{size:20,font:WIDE,anchor:"middle",rot:1,fill:"#222"});w.append("tspan").attr("font-style","italic").text("W");w.append("tspan").text(" statistic");}
// ====== H ======
{const ux=d3.scaleLinear([0,1568],[960,1660]),uy=d3.scaleLinear([0,1080],[820,1180]);
 box(983,836,666,325,"#444",1.2);
 const pairs=a=>d3.range(a.length/2).map(i=>[a[2*i],a[2*i+1]]);
 const G="#2A9A66",B="#2B78B8",O="#EE8426";
 const dots=(a,c,op,r)=>svg.append("g").selectAll("circle").data(pairs(a)).join("circle").attr("cx",d=>ux(d[0])).attr("cy",d=>uy(d[1])).attr("r",r).attr("fill",c).attr("opacity",op);
 dots(umapBlueDys,B,.55,4);dots(umapGreenDys,G,.8,5);dots(umapOrangeDys,O,.75,4.6);dots(umapBlueFT,B,.62,4.6);dots(umapGreenFT,G,.45,3.8);dots(umapOrangeFT,O,.5,3.8);
 const hull=d3.line().curve(d3.curveCatmullRomClosed.alpha(.5)).x(d=>ux(d[0])).y(d=>uy(d[1]));
 [[hullC2Dys,"#1E8A5A"],[hullC3Dys,"#F7941D"],[hullC2FT,"#1E8A5A"],[hullC3FT,"#F7941D"]].forEach(h=>svg.append("path").attr("d",hull(h[0])).attr("fill","none").attr("stroke",h[1]).attr("stroke-width",1.5).attr("stroke-dasharray","1.6 1.8"));
 svg.append("path").attr("d",`M${ux(368)} ${uy(418)}Q${ux(630)} ${uy(260)} ${ux(890)} ${uy(376)}`).attr("fill","none").attr("stroke","#111").attr("stroke-width",2).attr("stroke-dasharray","1.6 1.4");
 svg.append("path").attr("d",`M${ux(888)} ${uy(360)}L${ux(908)} ${uy(378)}L${ux(892)} ${uy(392)}Z`).attr("fill","#000");
 T(1077,864,"Dysbiosis",{size:26,fill:"#111"});T(1418,868,"Fecal transfer",{size:26,fill:"#6D3A9C"});
 T(1038,1024,"C2",{size:28,fill:G,anchor:"middle",w:35});T(1197,1127,"C3",{size:28,fill:O,anchor:"middle",w:32});T(1401,1082,"C2",{size:28,fill:"#1E8A5A",anchor:"middle",w:34});T(1514,1126,"C3",{size:28,fill:O,anchor:"middle",w:33});}
// ====== I ======
{const xI=d3.scaleBand(d3.range(22),[133,693.5]),yI=d3.scaleBand(d3.range(150),[1326,2078]);
 const cs=d3.scaleLinear([-2,-1.5,-1,-.5,0,.5,1,1.5,2],["#2AA5D8","#17759C","#0F4D66","#0B2B35","#0C1212","#2C2811","#5C5320","#958B2A","#EFE52C"]);
 svg.append("rect").attr("x",131).attr("y",1324).attr("width",565).attr("height",756).attr("fill","#000");
 const g=svg.append("g").attr("shape-rendering","crispEdges");
 heatRows.forEach((r,i)=>r.forEach((v,j)=>g.append("rect").attr("x",xI(j)).attr("y",yI(i)).attr("width",xI.bandwidth()+.6).attr("height",yI.bandwidth()+.6).attr("fill",cs(v))));
 const defs=svg.append("defs");
 const pat=defs.append("pattern").attr("id","streak").attr("width",6).attr("height",3).attr("patternUnits","userSpaceOnUse");
 pat.append("rect").attr("width",6).attr("height",1).attr("fill","#000").attr("opacity",.3);
 svg.append("rect").attr("x",133).attr("y",1326).attr("width",560.5).attr("height",752).attr("fill","url(#streak)");
 d3.range(1,11).forEach(k=>line(xI(2*k),1326,xI(2*k),2078,k%3?"#ddd":"#aaa",1.2));
 svg.append("rect").attr("x",133).attr("y",1965.5).attr("width",560.5).attr("height",3).attr("fill","#fff");
 svg.append("rect").attr("x",131).attr("y",1305).attr("width",565).attr("height",17).attr("fill","#000");
 const xG=d3.scaleBand(cellTypes,[133,693.5]);
 svg.append("g").selectAll("rect").data(cellTypes).join("rect").attr("x",d=>xG(d)+.5).attr("y",1307).attr("width",xG.bandwidth()-1).attr("height",14).attr("fill",(d,i)=>cellColors[i]);
 [["Neutrophil",0,166],["Alveolar",1,203],["macrophage",1,228],["Interstitial",2,255],["macrophage",2,280],["pDC",3,322],["cDC",4,367],["Platelets",5,422],["Proliferating",6,457],["NK cells",6,481],["NK cells",7,523],["T cells",8,574],["B cells",9,625],["Plasmablast",10,676]].forEach(d=>T(d[2],1298,d[0],{size:20,fill:cellColors[d[1]],rot:1}));
 // legend
 const gd=defs.append("linearGradient").attr("id","lfc");[[0,"#29ABE2"],[.3,"#0E4F6A"],[.5,"#0b0b0b"],[.75,"#6b5e20"],[1,"#F2E82F"]].forEach(s=>gd.append("stop").attr("offset",s[0]).attr("stop-color",s[1]));
 svg.append("rect").attr("x",736).attr("y",1194).attr("width",78).attr("height",14).attr("fill","url(#lfc)");
 const lg=T(730,1187,"Log",{size:11.5,fill:"#222"});lg.append("tspan").attr("dy",2).attr("font-size",8).text("2");lg.append("tspan").attr("dy",-2).text(" fold change");
 const lx=d3.scaleLinear([-2,0,2],[743,782,813]);
 const la=svg.append("g").attr("transform","translate(0,1210)").call(d3.axisBottom(lx).tickValues([-2,0,2]).tickSize(0).tickPadding(5).tickFormat(d3.format("d")));axisStyle(la,{size:13,font:ARIAL});la.select(".domain").remove();
 box(714,1249,25.5,17,"#111",1.5,RED);box(714,1274,25.5,17,"#111",1.5,"#6D2C91");
 const t1=T(746,1264,"Dysbiosis",{size:15,fill:RED});t1.append("tspan").attr("fill","#111").text(" vs. ");t1.append("tspan").attr("fill","#2E4FA2").text("control");t1.attr("textLength",138).attr("lengthAdjust","spacingAndGlyphs");
 const t2=T(746,1287,"Fecal transfer",{size:15,fill:"#6D2C91"});t2.append("tspan").attr("fill","#111").text(" vs.");t2.attr("textLength",115).attr("lengthAdjust","spacingAndGlyphs");T(746,1304,"control",{size:15,fill:"#2E4FA2",sx:.9});
 // gene labels
 const gl=(arr,c,xr=126.5)=>arr.forEach(d=>T(xr,d[1],d[0],{size:13.5,fill:c,anchor:"end",db:"middle",sx:.95}));
 gl([["HIF1A",1331],["TANK",1346]],"#8B5A2B");gl([["IL1B",1390],["NLRP3",1406],["NFKB1",1421],["CTSC",1437]],"#808285");
 gl([["IL7R",1525],["CD3D",1541],["CD3E",1556]],"#8B2A8C");gl([["ICOS",1603],["LYN",1618]],"#C657AE");
 gl([["FCRL3",1787]],"#F9BE5A");gl([["VEGF",1804],["PDGFA",1819],["EGF",1835]],"#F7941D");gl([["CCR2",1792],["ANG",1812],["IL10",1827]],"#F7941D",81);
 gl([["CCR2",1923],["CCL3",1940],["CX3CL1",1955]],"#F47D7D");gl([["PYCARD",1974],["C1QBP",1989]],"#1FA24A");gl([["EGR1",2044]],"#6FC8EE");
 // dotted box
 svg.append("path").attr("d","M132 1780H881V1837H132Z").attr("fill","none").attr("stroke","#F7941D").attr("stroke-width",2).attr("stroke-dasharray","2 2");
 // pathway bars
 const p=d3.scaleLinear([0,7,14],[697,735,776.5]);
 line(697,1326,697,2082,"#bbb",1);
 svg.append("g").selectAll("rect").data(pathways).join("rect").attr("x",p(0)).attr("y",(d,i)=>pathwayTops[i]).attr("width",d=>p(d[1])-p(0)).attr("height",16).attr("fill",d=>d[2]).attr("stroke","#333").attr("stroke-width",1);
 [["HIF1α",741,1342,"#A0622D"],["signaling",724,1361,"#A0622D"],["Inflammasome",711,1385,"#939598"],["signaling",751,1403,"#939598"],["IL-1 signaling",702,1477,"#8B2A8C"],["T cell",763,1525,"#8B2A8C"],["activation",734,1543,"#8B2A8C"],["Presentation of",742,1619,"#C657AE"],["soluble antigens",735,1637,"#C657AE"],["Antigen",749,1679,"#B07CC6"],["processing",727,1697,"#B07CC6"],["Ubiquitination",743,1737,"#5E3A9E"],["Tolerance",769,1797,"#F3CF7F"],["Wound repair",773.5,1830,"#F7941D"],["Axon",779,1898,"#EE3524"],["guidance",751,1917,"#EE3524"],["Leukocyte migration",700,1937,"#F47D7D"],["Apoptosis",701,1986,"#8CC63F"],["Cell exhaustion",701,2026,"#6FC8EE"]].forEach(d=>T(d[1],d[2],d[0],{size:16,fill:d[3],sx:.86}));
 // P scale
 line(697,2082,776.5,2082,"#555",1);line(p(7),2073,p(7),2082,"#555",1);line(p(14),2073,p(14),2082,"#555",1);
 [[p(7),"e","−7"],[p(14),"e","−14"]].forEach(d=>{const t=T(d[0],2067,d[1],{size:13,anchor:"middle"});t.append("tspan").attr("dy",-4).attr("font-size",9).text(d[2]);});
 const pv=T(734,2097,"",{size:13,anchor:"middle"});pv.append("tspan").attr("font-style","italic").text("P");pv.append("tspan").text(" value");
 // group strip
 svg.append("rect").attr("x",132).attr("y",2081).attr("width",564).attr("height",10).attr("fill","#111");
 svg.append("g").selectAll("rect").data(d3.range(22)).join("rect").attr("x",d=>xI(d)+.5).attr("y",2082).attr("width",xI.bandwidth()-1).attr("height",7).attr("fill",d=>d%2?"#6D2C91":RED);}
// ====== J ======
function jPanel(o){const x=d3.scaleLinear([0,1],[o.x0,o.x1]);
 const yB=d3.scaleLinear([0,o.frac.length-1],[o.yFirst,o.yLast]);
 const g=svg.append("g").attr("shape-rendering","crispEdges");
 o.frac.forEach((f,i)=>{const y=yB(i)-o.h/2;
  if(f>0)g.append("rect").attr("x",x(0)).attr("y",y).attr("width",x(f)-x(0)).attr("height",o.h).attr("fill",o.c);
  if(f<1)g.append("rect").attr("x",x(f)).attr("y",y).attr("width",x(1)-x(f)).attr("height",o.h).attr("fill","#EE3524");});
 line(x(.5),o.axTop,x(.5),o.axBot,"#999",.8,"6 4");
 line(o.ax,o.axTop,o.ax,o.axBot,"#333",1.6);line(o.ax,o.axBot,o.axEnd,o.axBot,"#333",1.6);
 [0,.25,.5,.75,1].forEach(t=>line(x(t),o.axBot,x(t),o.axBot+3,"#333",1));
 o.ticks.forEach((v,i)=>T(v,o.tickY,["0","0.25","0.5","0.75","1"][i],{size:18,anchor:"middle",db:"middle",sx:.85}));
 T(o.xtitle,2095,"Relative information flow",{size:17,anchor:"middle",w:185});
 o.genes.forEach((g,i)=>T(o.lx,o.yL(i),g,{size:14.5,fill:o.col(g,i),anchor:"end",db:"middle"}));
 (o.tickBars?d3.range(o.frac.length).map(yB):o.genes.map((g,i)=>o.yL(i))).forEach(y=>line(o.ax-5,y,o.ax,y,"#444",1.4));
 o.titles.forEach(t=>T(t[0],t[1],t[2],{size:21,fill:t[3],w:t[4]}));}
const JB="#3654A5",JT="#2E4FA2",JR="#B52025";
jPanel({x0:1044,x1:1272,yFirst:1287.3,yLast:2040.3,h:12.6,c:JB,frac:fracCtrl,ax:1031,axTop:1278,axBot:2050,axEnd:1283,ticks:[1013,1069,1126,1179,1230],tickY:2063,xtitle:1147,genes:genesCtrl,lx:1018.7,tickBars:true,
 yL:i=>i<16?1292.7+14.6*i:1532.7+14.57*(i-16),
 col:(g,i)=>i>=36?JR:(i>=28&&i<=31?"#111":JT),titles:[[1045,1276,"Control",JT,63],[1170.5,1276,"Dysbiosis",JR,83]]});
jPanel({x0:1411,x1:1646.5,yFirst:1285,yLast:2042.3,h:10.8,c:"#7B4B9F",frac:fracFT,ax:1399,axTop:1277,axBot:2049,axEnd:1651,ticks:[1410,1466,1524,1576,1627],tickY:2065,xtitle:1526,genes:genesFT,lx:1393,
 yL:i=>1286+14.58*i,col:(g,i)=>i>=44?JR:(ftBlack.includes(g)?"#111":"#6D3A9C"),titles:[[1406.5,1273,"Fecal transfer","#6D3A9C",120],[1552,1273,"Dysbiosis",JR,83]]});
</script></body></html>
